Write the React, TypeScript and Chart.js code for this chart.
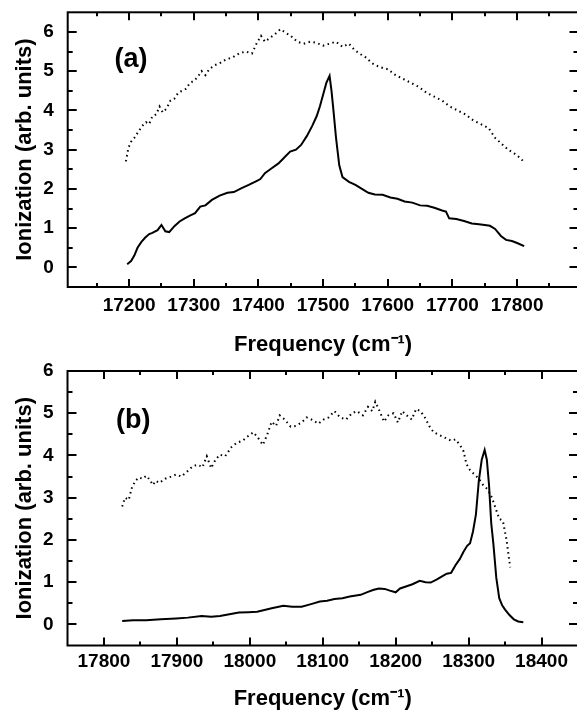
import React, { useEffect, useRef } from "react";
import { Chart, registerables } from "chart.js";

Chart.register(...registerables);

// ---------- Panel (a) data ----------
const freqSolidA = [17197, 17203, 17208, 17213, 17219, 17225, 17231, 17236, 17244, 17250, 17256, 17262, 17270, 17278, 17286, 17294, 17302, 17310, 17318, 17328, 17340, 17352, 17362, 17374, 17385, 17397, 17403, 17410, 17420, 17431, 17440, 17449, 17458, 17466, 17475, 17483, 17490, 17495, 17500, 17505, 17510, 17513, 17516, 17520, 17525, 17530, 17540, 17550, 17560, 17570, 17580, 17592, 17604, 17615, 17626, 17638, 17650, 17661, 17672, 17684, 17690, 17695, 17706, 17718, 17730, 17741, 17750, 17758, 17766, 17775, 17783, 17792, 17800, 17811];
const ionSolidA = [0.08, 0.16, 0.3, 0.5, 0.65, 0.76, 0.85, 0.88, 0.95, 1.08, 0.92, 0.9, 1.05, 1.17, 1.25, 1.32, 1.38, 1.55, 1.58, 1.72, 1.83, 1.9, 1.92, 2.02, 2.1, 2.2, 2.25, 2.4, 2.52, 2.65, 2.8, 2.95, 3.0, 3.12, 3.35, 3.6, 3.85, 4.1, 4.4, 4.7, 4.88, 4.5, 4.0, 3.3, 2.6, 2.3, 2.18, 2.1, 2.0, 1.9, 1.86, 1.85, 1.78, 1.75, 1.68, 1.65, 1.58, 1.57, 1.52, 1.45, 1.42, 1.25, 1.23, 1.18, 1.12, 1.1, 1.08, 1.06, 0.98, 0.8, 0.7, 0.67, 0.62, 0.54];
const freqDotA = [17195, 17199, 17203, 17208, 17214, 17220, 17226, 17231, 17236, 17242, 17247, 17252, 17258, 17264, 17270, 17276, 17282, 17288, 17294, 17300, 17306, 17312, 17318, 17324, 17332, 17340, 17350, 17360, 17370, 17380, 17390, 17397, 17404, 17410, 17418, 17426, 17434, 17442, 17450, 17460, 17470, 17480, 17490, 17500, 17510, 17520, 17530, 17540, 17548, 17556, 17566, 17576, 17588, 17600, 17612, 17624, 17636, 17648, 17660, 17672, 17684, 17696, 17708, 17720, 17732, 17744, 17756, 17766, 17776, 17786, 17796, 17804, 17811];
const ionDotA = [2.7, 3.05, 3.2, 3.3, 3.45, 3.6, 3.7, 3.65, 3.85, 3.9, 4.1, 3.95, 4.05, 4.25, 4.3, 4.45, 4.5, 4.55, 4.7, 4.75, 4.85, 5.0, 4.9, 5.05, 5.15, 5.2, 5.3, 5.35, 5.45, 5.5, 5.45, 5.7, 5.9, 5.75, 5.85, 5.95, 6.07, 5.98, 5.9, 5.75, 5.7, 5.75, 5.72, 5.65, 5.7, 5.75, 5.62, 5.7, 5.55, 5.45, 5.35, 5.2, 5.1, 5.05, 4.9, 4.8, 4.7, 4.6, 4.45, 4.35, 4.25, 4.1, 4.0, 3.9, 3.75, 3.65, 3.55, 3.3, 3.15, 3.0, 2.9, 2.8, 2.68];

// ---------- Panel (b) data ----------
const freqSolidB = [17825, 17840, 17858, 17878, 17899, 17915, 17934, 17947, 17959, 17972, 17985, 17998, 18010, 18020, 18030, 18046, 18058, 18071, 18084, 18096, 18106, 18116, 18127, 18137, 18152, 18162, 18170, 18177, 18185, 18192, 18200, 18206, 18213, 18223, 18233, 18241, 18248, 18256, 18263, 18270, 18276, 18282, 18288, 18293, 18298, 18302, 18306, 18310, 18314, 18318, 18322, 18325, 18328, 18331, 18334, 18338, 18342, 18346, 18350, 18356, 18362, 18368, 18375];
const ionSolidB = [0.08, 0.1, 0.1, 0.12, 0.14, 0.16, 0.2, 0.18, 0.2, 0.24, 0.28, 0.29, 0.3, 0.34, 0.38, 0.44, 0.42, 0.42, 0.48, 0.54, 0.56, 0.6, 0.62, 0.66, 0.7, 0.77, 0.82, 0.85, 0.84, 0.8, 0.76, 0.85, 0.89, 0.95, 1.03, 1.0, 0.99, 1.06, 1.13, 1.2, 1.22, 1.4, 1.55, 1.72, 1.86, 1.92, 2.2, 2.6, 3.4, 3.9, 4.13, 3.9, 3.3, 2.4, 1.9, 1.1, 0.62, 0.45, 0.35, 0.22, 0.12, 0.07, 0.05];
const freqDotB = [17825, 17829, 17834, 17838, 17843, 17848, 17853, 17858, 17863, 17867, 17871, 17876, 17884, 17892, 17899, 17906, 17914, 17922, 17929, 17935, 17941, 17947, 17953, 17959, 17966, 17975, 17982, 17990, 17997, 18005, 18012, 18018, 18024, 18030, 18036, 18041, 18048, 18056, 18063, 18071, 18078, 18086, 18094, 18101, 18108, 18116, 18124, 18132, 18140, 18147, 18155, 18162, 18168, 18172, 18178, 18184, 18190, 18197, 18203, 18209, 18215, 18222, 18228, 18234, 18240, 18246, 18252, 18258, 18264, 18270, 18276, 18282, 18288, 18293, 18297, 18302, 18308, 18314, 18320, 18326, 18332, 18337, 18342, 18347, 18352, 18357];
const ionDotB = [2.79, 3.0, 2.95, 3.22, 3.4, 3.48, 3.45, 3.52, 3.42, 3.3, 3.4, 3.35, 3.45, 3.5, 3.55, 3.5, 3.62, 3.75, 3.78, 3.72, 3.98, 3.7, 3.9, 4.02, 3.98, 4.2, 4.3, 4.35, 4.45, 4.55, 4.4, 4.25, 4.5, 4.8, 4.7, 4.95, 4.85, 4.68, 4.7, 4.78, 4.9, 4.84, 4.75, 4.85, 4.9, 5.05, 4.9, 4.85, 5.0, 5.05, 4.95, 5.15, 5.05, 5.27, 5.05, 4.8, 4.95, 5.0, 4.78, 5.05, 4.95, 4.85, 5.1, 5.05, 4.9, 4.7, 4.55, 4.5, 4.45, 4.4, 4.35, 4.38, 4.25, 4.1, 3.8, 3.65, 3.55, 3.45, 3.3, 3.2, 3.0, 2.75, 2.5, 2.45, 2.0, 1.35];

// ---------- Axes / ticks ----------
const xTicksA = [17200, 17300, 17400, 17500, 17600, 17700, 17800];
const xMinorA = [17150, 17250, 17350, 17450, 17550, 17650, 17750, 17850];
const yTicksA = [0, 1, 2, 3, 4, 5, 6];
const yMinorA = [0.5, 1.5, 2.5, 3.5, 4.5, 5.5];
const xTicksB = [17800, 17900, 18000, 18100, 18200, 18300, 18400];
const xMinorB = [17850, 17950, 18050, 18150, 18250, 18350];
const yTicksB = [0, 1, 2, 3, 4, 5, 6];
const yMinorB = [0.5, 1.5, 2.5, 3.5, 4.5, 5.5];

const xTitle = "Frequency (cm\u207B\u00B9)";
const yTitle = "Ionization (arb. units)";
const FONT = "'Liberation Sans', Arial, sans-serif";

const framePlugin = {
  id: "frame",
  afterDatasetsDraw(chart: any, _args: any, opts: any) {
    const { ctx, chartArea: a, scales } = chart;
    const xs = scales.x;
    const ys = scales.y;
    ctx.save();
    ctx.strokeStyle = "#000";
    ctx.lineCap = "butt";
    const seg = (x1: number, y1: number, x2: number, y2: number, w: number) => {
      ctx.lineWidth = w;
      ctx.beginPath();
      ctx.moveTo(x1, y1);
      ctx.lineTo(x2, y2);
      ctx.stroke();
    };
    const drawX = (vals: number[], len: number, w: number) =>
      vals.forEach((v) => {
        const px = Math.round(xs.getPixelForValue(v));
        seg(px, a.bottom, px, a.bottom - len, w);
        seg(px, a.top, px, a.top + len, w);
      });
    const drawY = (vals: number[], len: number, w: number) =>
      vals.forEach((v) => {
        const py = Math.round(ys.getPixelForValue(v));
        seg(a.left, py, a.left + len, py, w);
        seg(a.right, py, a.right - len, py, w);
      });
    drawX(opts.xMajor, 8, 2);
    drawX(opts.xMinor, 4, 2);
    drawY(opts.yMajor, 9, 2);
    drawY(opts.yMinor, 5, 2);
    ctx.lineWidth = 2;
    ctx.strokeRect(a.left, a.top, a.right - a.left, a.bottom - a.top);
    ctx.fillStyle = "#000";
    ctx.font = `bold 27px ${FONT}`;
    ctx.textAlign = "center";
    ctx.textBaseline = "middle";
    ctx.fillText(opts.label, xs.getPixelForValue(opts.labelX), ys.getPixelForValue(opts.labelY));
    ctx.restore();
  },
};

function makeConfig(p: any) {
  return {
    type: "line",
    data: {
      datasets: [
        {
          data: p.fs.map((f: number, i: number) => ({ x: f, y: p.s[i] })),
          borderColor: "#000",
          borderWidth: 2,
          pointRadius: 0,
          tension: 0,
          fill: false,
        },
        {
          data: p.fd.map((f: number, i: number) => ({ x: f, y: p.d[i] })),
          borderColor: "#000",
          borderWidth: 2,
          borderDash: [1.5, 3.5],
          pointRadius: 0,
          tension: 0,
          fill: false,
        },
      ],
    },
    options: {
      responsive: false,
      animation: false,
      devicePixelRatio: 1,
      layout: { padding: { top: p.padTop, right: p.padRight, left: 0, bottom: 0 } },
      plugins: {
        legend: { display: false },
        tooltip: { enabled: false },
        frame: {
          xMajor: p.xt,
          xMinor: p.xm,
          yMajor: p.yt,
          yMinor: p.ym,
          label: p.label,
          labelX: p.labelX,
          labelY: p.labelY,
        },
      },
      scales: {
        x: {
          type: "linear",
          min: p.xmin,
          max: p.xmax,
          afterBuildTicks: (s: any) => {
            s.ticks = p.xt.map((v: number) => ({ value: v }));
          },
          afterFit: (s: any) => {
            s.height = p.xAxisH;
            s.paddingLeft = 0;
            s.paddingRight = 0;
          },
          grid: { display: false, drawTicks: false },
          border: { display: false },
          ticks: {
            color: "#000",
            font: { family: FONT, size: 19, weight: "bold" },
            padding: p.xPad,
            maxRotation: 0,
            autoSkip: false,
            callback: (v: any) => String(v),
          },
          title: {
            display: true,
            text: xTitle,
            color: "#000",
            font: { family: FONT, size: 22, weight: "bold" },
            padding: { top: 0, bottom: p.xTitlePad },
          },
        },
        y: {
          type: "linear",
          min: p.ymin,
          max: p.ymax,
          afterBuildTicks: (s: any) => {
            s.ticks = p.yt.map((v: number) => ({ value: v }));
          },
          afterFit: (s: any) => {
            s.width = p.yAxisW;
            s.paddingTop = 0;
            s.paddingBottom = 0;
          },
          grid: { display: false, drawTicks: false },
          border: { display: false },
          ticks: {
            color: "#000",
            font: { family: FONT, size: 19, weight: "bold" },
            padding: 14,
            autoSkip: false,
            callback: (v: any) => String(v),
          },
          title: {
            display: true,
            text: yTitle,
            color: "#000",
            font: { family: FONT, size: 22, weight: "bold" },
            padding: { top: 12, bottom: 0 },
          },
        },
      },
    },
    plugins: [framePlugin],
  };
}

const panelA = {
  fs: freqSolidA, s: ionSolidA, fd: freqDotA, d: ionDotA,
  xt: xTicksA, xm: xMinorA, yt: yTicksA, ym: yMinorA,
  xmin: 17105, xmax: 17895, ymin: -0.5, ymax: 6.5,
  label: "(a)", labelX: 17203, labelY: 5.3,
  padTop: 12.3, padRight: 21.5, xAxisH: 73, yAxisW: 67.7, xPad: 7, xTitlePad: 2,
};

const panelB = {
  fs: freqSolidB, s: ionSolidB, fd: freqDotB, d: ionDotB,
  xt: xTicksB, xm: xMinorB, yt: yTicksB, ym: yMinorB,
  xmin: 17750, xmax: 18450, ymin: -0.5, ymax: 6,
  label: "(b)", labelX: 17840, labelY: 4.82,
  padTop: 19, padRight: 22, xAxisH: 66.5, yAxisW: 67.5, xPad: 5, xTitlePad: 0,
};

export default function App() {
  const refA = useRef<HTMLCanvasElement>(null);
  const refB = useRef<HTMLCanvasElement>(null);
  useEffect(() => {
    const a = new Chart(refA.current as HTMLCanvasElement, makeConfig(panelA) as any);
    const b = new Chart(refB.current as HTMLCanvasElement, makeConfig(panelB) as any);
    return () => {
      a.destroy();
      b.destroy();
    };
  }, []);
  return (
    <div style={{ position: "absolute", left: 0, top: 0, width: 577, height: 712, overflow: "hidden", background: "#fff" }}>
      <canvas ref={refA} width={600} height={360} style={{ position: "absolute", left: 0, top: 0 }} />
      <canvas ref={refB} width={600} height={360} style={{ position: "absolute", left: 0, top: 352 }} />
    </div>
  );
}
